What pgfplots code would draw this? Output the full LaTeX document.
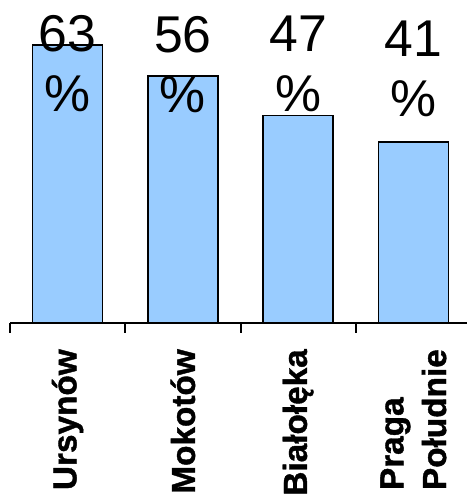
\documentclass[border=0pt]{standalone}
\usepackage{fontspec}
\setmainfont{Liberation Sans}
\newfontfamily\tickfont{Liberation Sans}[BoldFeatures={FakeBold=1.2}]
\usepackage{pgfplots}
\pgfplotsset{compat=1.18}
\definecolor{barblue}{HTML}{99CCFF}
\begin{document}
\begin{tikzpicture}
\begin{axis}[
  at={(7.5pt,131.25pt)}, anchor=south west,
  scale only axis, width=345.75pt, height=242.25pt,
  xmin=-0.5, xmax=3.5, ymin=0, ymax=73.2,
  axis x line=bottom, axis y line=none,
  x axis line style={-, line width=1.5pt},
  xtick={0,1,2,3},
  xticklabels={Ursynów, Mokotów, Białołęka, {Praga\\Południe}},
  minor xtick={-0.5,0.5,1.5,2.5,3.5},
  major tick length=0pt, minor tick length=7.5pt,
  tick align=outside,
  every tick/.style={black, line width=1.5pt},
  minor tick style={black, line width=1.5pt},
  xticklabel style={rotate=90, anchor=east, align=left, inner sep=0pt,
    font=\tickfont\fontsize{25}{32}\selectfont\bfseries},
  xticklabel shift=19.5pt,
  ybar, bar width=52.5pt,
  clip=false,
]
\addplot[fill=barblue, draw=black, line width=1.1pt] coordinates {(0,63) (1,56) (2,47) (3,41)};
\node[align=center, inner sep=0pt, font=\fontsize{38.8}{45}\selectfont] at (axis cs:0,58.7) {63\\\%};
\node[align=center, inner sep=0pt, font=\fontsize{38.8}{45}\selectfont] at (axis cs:1,58.6) {56\\\%};
\node[align=center, inner sep=0pt, font=\fontsize{38.8}{45}\selectfont] at (axis cs:2,58.7) {47\\\%};
\node[align=center, inner sep=0pt, font=\fontsize{38.8}{45}\selectfont] at (axis cs:3,57.7) {41\\\%};
\end{axis}
\pgfresetboundingbox
\path (0,0) rectangle (349.5pt,373.5pt);
\end{tikzpicture}
\end{document}
